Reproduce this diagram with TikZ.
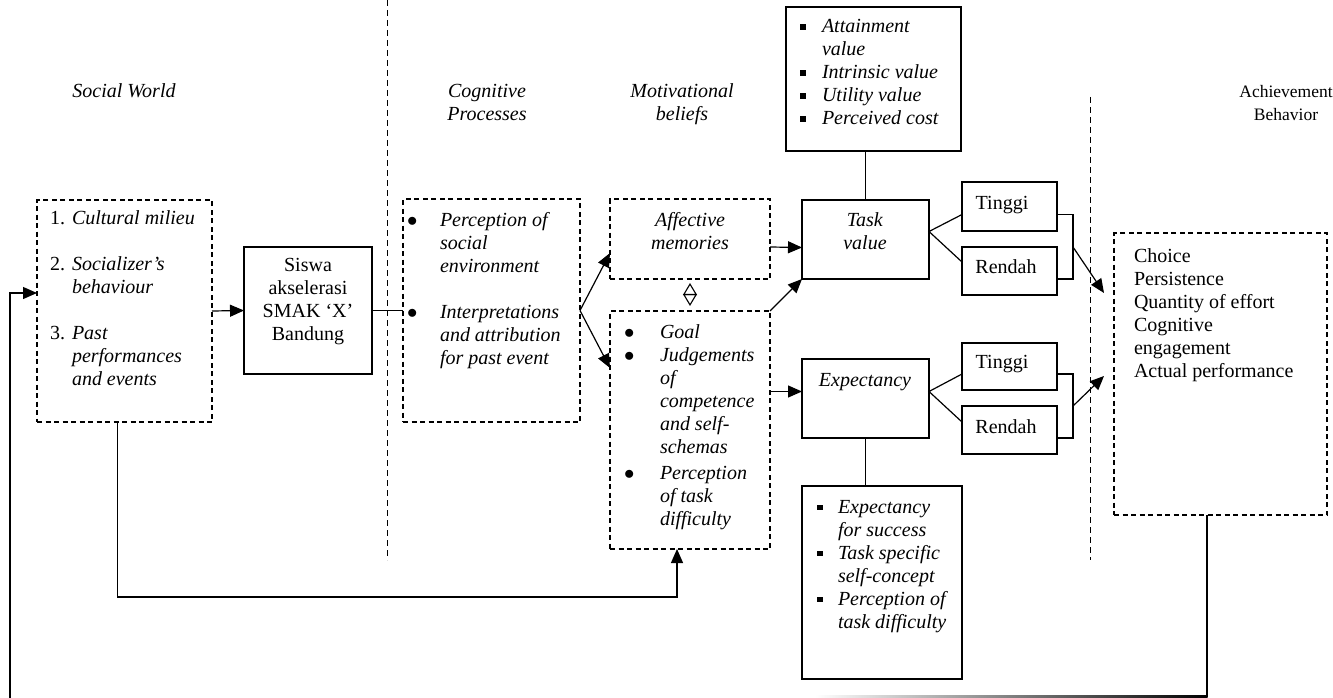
\documentclass[tikz,border=0pt]{standalone}
\usepackage{fontspec}
\setmainfont{Liberation Serif}
\usetikzlibrary{arrows.meta,calc}
\newcommand{\sq}{\rule[3pt]{5.5pt}{5.5pt}}
\newcommand{\bul}{$\bullet$}
\begin{document}
\begin{tikzpicture}[x=1pt,y=-1pt,
  every node/.style={font=\fontsize{20}{23}\selectfont, inner sep=0pt, outer sep=0pt},
  sbox/.style={draw, line width=1.3pt, anchor=north west},
  dbox/.style={draw, line width=1.3pt, dash pattern=on 5pt off 3.5pt, anchor=north west},
  sep/.style={line width=1pt, dash pattern=on 6pt off 4pt},
  arr/.style={-{Triangle[length=14pt,width=12pt]}, line width=1.2pt},
  conn/.style={line width=1.2pt},
  txt/.style={anchor=base west},
  ctxt/.style={anchor=base},
]
\useasboundingbox (0,0) rectangle (1333,698);

% separators
\coordinate (s1a) at (387,0); \coordinate (s1b) at (387,560);
\coordinate (s2a) at (1090,97); \coordinate (s2b) at (1090,560);
\draw[sep] (s1a) -- (s1b);
\draw[sep] (s2a) -- (s2b);

% headers
\node[ctxt] (hsoc) at (124,98) {\begin{tabular}[t]{@{}c@{}}\textit{Social World}\end{tabular}};
\node[ctxt] (hcog) at (487,98) {\begin{tabular}[t]{@{}c@{}}\textit{Cognitive}\\\textit{Processes}\end{tabular}};
\node[ctxt] (hmot) at (682,98) {\begin{tabular}[t]{@{}c@{}}\textit{Motivational}\\\textit{beliefs}\end{tabular}};
\node[ctxt, font=\fontsize{17.5}{23}\selectfont] (hach) at (1286,98) {\begin{tabular}[t]{@{}c@{}}Achievement\\Behavior\end{tabular}};

% boxes
\node[dbox, minimum width=175pt, minimum height=222pt] (social) at (37,200) {};
\node[sbox, minimum width=128pt, minimum height=127pt] (siswa) at (244,247) {};
\node[dbox, minimum width=177pt, minimum height=223pt] (cog) at (403,199) {};
\node[dbox, minimum width=160pt, minimum height=80pt] (aff) at (610,199) {};
\node[dbox, minimum width=160pt, minimum height=238pt] (goal) at (610,311) {};
\node[sbox, minimum width=127pt, minimum height=79pt] (tv) at (802,200) {};
\node[sbox, minimum width=175pt, minimum height=144pt] (tvl) at (786,7) {};
\node[sbox, minimum width=95pt, minimum height=49pt] (t1) at (962,182) {};
\node[sbox, minimum width=95pt, minimum height=48pt] (r1) at (962,247) {};
\node[sbox, minimum width=127pt, minimum height=79pt] (exp) at (802,359) {};
\node[sbox, minimum width=95pt, minimum height=47pt] (t2) at (962,343) {};
\node[sbox, minimum width=95pt, minimum height=48pt] (r2) at (962,406) {};
\node[sbox, minimum width=160pt, minimum height=193pt] (exl) at (802,486) {};
\node[dbox, minimum width=213pt, minimum height=282pt] (ach) at (1114,233) {};

% texts
\node[txt] (socialtxt) at (50,224) {\begin{tabular}[t]{@{}l@{}}
\makebox[22pt][l]{1.}\textit{Cultural milieu}\\ \\
\makebox[22pt][l]{2.}\textit{Socializer's}\\
\makebox[22pt][l]{}\textit{behaviour}\\ \\
\makebox[22pt][l]{3.}\textit{Past}\\
\makebox[22pt][l]{}\textit{performances}\\
\makebox[22pt][l]{}\textit{and events}\end{tabular}};
\node[ctxt] (siswatxt) at (308,271) {\begin{tabular}[t]{@{}c@{}}Siswa\\akselerasi\\SMAK `X'\\Bandung\end{tabular}};
\node[txt] (cogtxt) at (407,226) {\begin{tabular}[t]{@{}l@{}}
\makebox[33pt][l]{\bul}\textit{Perception of}\\
\makebox[33pt][l]{}\textit{social}\\
\makebox[33pt][l]{}\textit{environment}\\ \\
\makebox[33pt][l]{\bul}\textit{Interpretations}\\
\makebox[33pt][l]{}\textit{and attribution}\\
\makebox[33pt][l]{}\textit{for past event}\end{tabular}};
\node[ctxt] (afftxt) at (690,226) {\begin{tabular}[t]{@{}c@{}}\textit{Affective}\\\textit{memories}\end{tabular}};
\node[txt] (goaltxt) at (624,338) {\begin{tabular}[t]{@{}l@{}}
\makebox[36pt][l]{\bul}\textit{Goal}\\
\makebox[36pt][l]{\bul}\textit{Judgements}\\
\makebox[36pt][l]{}\textit{of}\\
\makebox[36pt][l]{}\textit{competence}\\
\makebox[36pt][l]{}\textit{and self-}\\
\makebox[36pt][l]{}\textit{schemas}\\[3pt]
\makebox[36pt][l]{\bul}\textit{Perception}\\
\makebox[36pt][l]{}\textit{of task}\\
\makebox[36pt][l]{}\textit{difficulty}\end{tabular}};
\node[ctxt] (tvtxt) at (865,226) {\begin{tabular}[t]{@{}c@{}}\textit{Task}\\\textit{value}\end{tabular}};
\node[txt] (tvltxt) at (800,33) {\begin{tabular}[t]{@{}l@{}}
\makebox[22pt][l]{\sq}\textit{Attainment}\\
\makebox[22pt][l]{}\textit{value}\\
\makebox[22pt][l]{\sq}\textit{Intrinsic value}\\
\makebox[22pt][l]{\sq}\textit{Utility value}\\
\makebox[22pt][l]{\sq}\textit{Perceived cost}\end{tabular}};
\node[ctxt] (t1txt) at (1002,209) {Tinggi};
\node[ctxt] (r1txt) at (1006,273) {Rendah};
\node[ctxt] (t2txt) at (1002,368) {Tinggi};
\node[ctxt] (r2txt) at (1006,433) {Rendah};
\node[ctxt] (exptxt) at (865,386) {\textit{Expectancy}};
\node[txt] (exltxt) at (817,513) {\begin{tabular}[t]{@{}l@{}}
\makebox[21pt][l]{\sq}\textit{Expectancy}\\
\makebox[21pt][l]{}\textit{for success}\\
\makebox[21pt][l]{\sq}\textit{Task specific}\\
\makebox[21pt][l]{}\textit{self-concept}\\
\makebox[21pt][l]{\sq}\textit{Perception of}\\
\makebox[21pt][l]{}\textit{task difficulty}\end{tabular}};
\node[txt] (achtxt) at (1134,262) {\begin{tabular}[t]{@{}l@{}}Choice\\Persistence\\Quantity of effort\\Cognitive\\engagement\\Actual performance\end{tabular}};

% connectors
\draw[arr] (social.east) -- (siswa.west);
\draw[conn] (siswa.east) -- (cog.west);
\draw[arr] (cog.east) -- ([yshift=26pt]aff.south west);
\draw[arr] (cog.east) -- ([yshift=-57pt]goal.north west);
\draw[{Triangle[open,length=12pt,width=14pt]}-{Triangle[open,length=12pt,width=14pt]}, line width=1.1pt] ([yshift=-4pt]aff.south) -- ([yshift=5pt]goal.north);
\draw[arr] ([yshift=-8pt]aff.east) -- ([yshift=-8pt]tv.west);
\draw[arr] (goal.north east) -- (tv.south west);
\draw[arr] ([yshift=7pt]exp.west -| goal.east) -- ([yshift=7pt]exp.west);
\draw[conn] (tv.north) -- (tv.north |- tvl.south);
\draw[conn] (exp.south) -- (exp.south |- exl.north);
% task value branches
\draw[conn] ([yshift=-8pt]t1.west) -- ([yshift=8pt]tv.east) -- ([yshift=9pt]r1.west);
\draw[conn] ([yshift=-8pt]t1.east) -- ++(16,0) |- ([yshift=-8pt]r1.east);
\coordinate (b1) at ([xshift=16pt]t1.east |- r1.north);
\coordinate (a1) at ([xshift=-10pt,yshift=-60pt]ach.north west);
\draw[arr] (b1) -- (a1);
% expectancy branches
\draw[conn] ([yshift=-7.5pt]t2.west) -- ([yshift=7pt]exp.east) -- ([yshift=8pt]r2.west);
\draw[conn] ([yshift=-7.5pt]t2.east) -- ++(16,0) |- ([yshift=-8pt]r2.east);
\coordinate (b2) at ([xshift=16pt]t2.east |- r2.north);
\coordinate (a2) at ([xshift=-10pt,yshift=-143pt]ach.north west);
\draw[arr] (b2) -- (a2);
% social -> goal
\draw[arr] ([xshift=-7pt]social.south) -- ++(0,175) -| ([xshift=-13pt]goal.south);
% feedback
\coordinate (fbL) at (10,698);
\draw[arr] (fbL) |- ([yshift=18pt]social.west);
\coordinate (fbR) at (1207,697);
\draw[conn] ([xshift=-13.5pt]ach.south) -- (fbR);
\shade[left color=white, right color=black] (815,695.8) rectangle ([xshift=0.6pt,yshift=-0.6pt]fbR);
\end{tikzpicture}
\end{document}
